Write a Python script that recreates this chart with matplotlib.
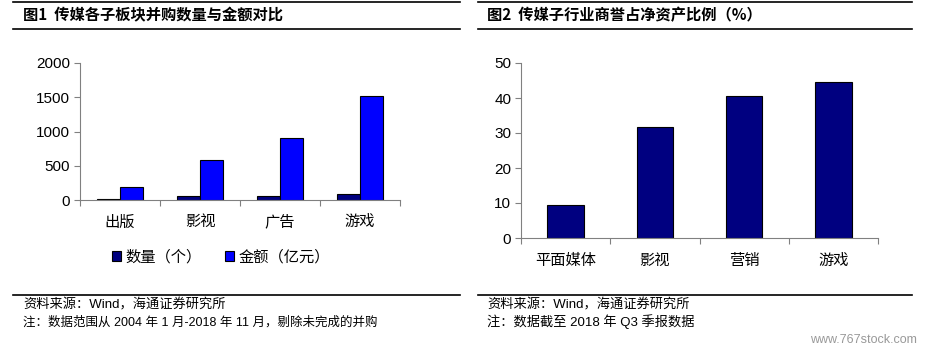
import matplotlib
matplotlib.use("Agg")
from matplotlib import pyplot as plt
import numpy as np

plt.rcParams['font.family'] = ['Liberation Sans', 'Noto Sans CJK SC', 'DejaVu Sans']

# 图1 数据
sectors1 = ["出版", "影视", "广告", "游戏"]
deal_count = [20, 55, 55, 90]
deal_amount = [185, 585, 910, 1515]
legend1 = ["数量（个）", "金额（亿元）"]

# 图2 数据
sectors2 = ["平面媒体", "影视", "营销", "游戏"]
goodwill_ratio = [9.3, 31.6, 40.5, 44.6]

navy = "#000080"
blue = "#0000FF"
axis_gray = "#808080"
cjk = ['Noto Sans CJK SC', 'DejaVu Sans']
mixed = ['Liberation Sans', 'Noto Sans CJK SC', 'DejaVu Sans']

W, H = 925, 351
fig = plt.figure(figsize=(W / 100, H / 100), dpi=100)


def fx(px):
    return px / W


def fy(py):
    return 1 - py / H


def style_axes(ax, n):
    for s in ["top", "right"]:
        ax.spines[s].set_visible(False)
    ax.spines["left"].set_color(axis_gray)
    ax.spines["bottom"].set_color(axis_gray)
    ax.set_xlim(0, n)
    ax.set_xticks(np.arange(n + 1))
    ax.set_xticklabels([])
    ax.tick_params(axis="x", length=4, color=axis_gray)
    ax.tick_params(axis="y", length=4, color=axis_gray, labelsize=11, pad=3)


# 左图
ax1 = fig.add_axes([fx(80), fy(200), fx(320), fy(63) - fy(200)])
x = np.arange(len(sectors1)) + 0.5
bw = 0.29
ax1.bar(x - bw / 2, deal_count, bw, color=navy, edgecolor="black", linewidth=0.8, label=legend1[0])
ax1.bar(x + bw / 2, deal_amount, bw, color=blue, edgecolor="black", linewidth=0.8, label=legend1[1])
ax1.set_ylim(0, 2000)
ax1.set_yticks(np.arange(0, 2001, 500))
style_axes(ax1, len(sectors1))
for xi, lab in zip(x, sectors1):
    ax1.text(xi, -320, lab, ha="center", va="center", fontsize=11, family=cjk)
ax1.legend(loc="center", bbox_to_anchor=(0.44, -0.415), ncol=2, frameon=False,
           prop={"family": cjk, "size": 11}, handlelength=0.6, handleheight=0.6,
           handletextpad=0.3, columnspacing=1.5)

# 右图
ax2 = fig.add_axes([fx(521), fy(238), fx(357), fy(63) - fy(238)])
x2 = np.arange(len(sectors2)) + 0.5
ax2.bar(x2, goodwill_ratio, 0.41, color=navy, edgecolor="black", linewidth=0.8)
ax2.set_ylim(0, 50)
ax2.set_yticks(np.arange(0, 51, 10))
style_axes(ax2, len(sectors2))
for xi, lab in zip(x2, sectors2):
    ax2.text(xi, -6.3, lab, ha="center", va="center", fontsize=11, family=cjk)

# 标题与分隔线
for x0, x1 in [(13, 460), (478, 912)]:
    for yy in [2, 29, 295]:
        fig.add_artist(plt.Line2D([fx(x0), fx(x1)], [fy(yy), fy(yy)], color="black", linewidth=1.2))

fig.text(fx(23), fy(15), "图1  传媒各子板块并购数量与金额对比", fontsize=11, weight="bold",
         va="center", family=cjk)
fig.text(fx(487), fy(15), "图2  传媒子行业商誉占净资产比例（%）", fontsize=11, weight="bold",
         va="center", family=cjk)

fig.text(fx(23), fy(305), "资料来源：Wind，海通证券研究所", fontsize=9.5, va="center", family=mixed)
fig.text(fx(23), fy(322), "注：数据范围从 2004 年 1 月-2018 年 11 月，剔除未完成的并购", fontsize=9,
         va="center", family=mixed)
fig.text(fx(487), fy(305), "资料来源：Wind，海通证券研究所", fontsize=9.5, va="center", family=mixed)
fig.text(fx(487), fy(322), "注：数据截至 2018 年 Q3 季报数据", fontsize=9.5, va="center", family=mixed)
fig.text(fx(917), fy(340), "www.767stock.com", fontsize=9, va="center", ha="right", color="#999999")

fig.savefig("out.png", dpi=100)
